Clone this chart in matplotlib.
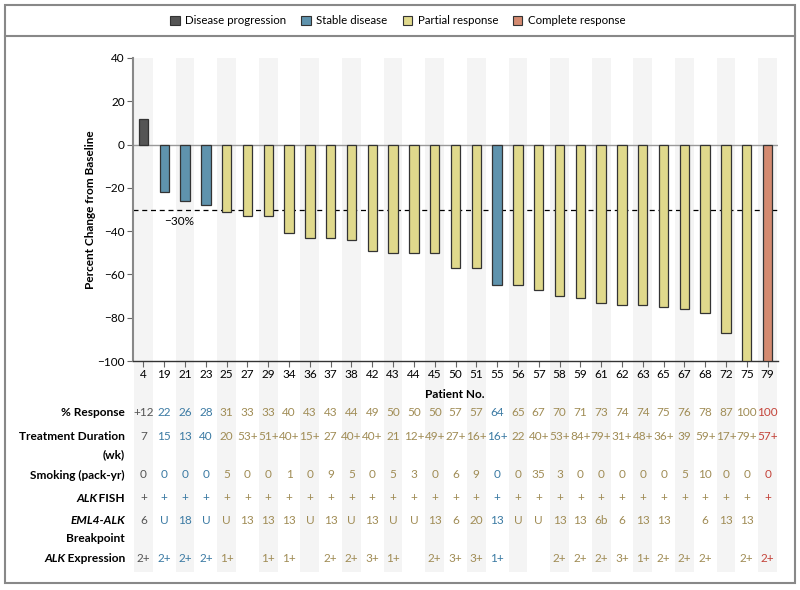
import matplotlib.pyplot as plt
from matplotlib.patches import Patch, Rectangle
from matplotlib.lines import Line2D

# data
patients = [4, 19, 21, 23, 25, 27, 29, 34, 36, 37, 38, 42, 43, 44, 45, 50, 51,
            55, 56, 57, 58, 59, 61, 62, 63, 65, 67, 68, 72, 75, 79]
change = [12, -22, -26, -28, -31, -33, -33, -41, -43, -43, -44, -49, -50, -50, -50,
          -57, -57, -65, -65, -67, -70, -71, -73, -74, -74, -75, -76, -78, -87, -100, -100]
status = ["PD", "SD", "SD", "SD"] + ["PR"] * 13 + ["SD"] + ["PR"] * 12 + ["CR"]

response = ["+12", "22", "26", "28", "31", "33", "33", "40", "43", "43", "44", "49", "50",
            "50", "50", "57", "57", "64", "65", "67", "70", "71", "73", "74", "74", "75",
            "76", "78", "87", "100", "100"]
duration = ["7", "15", "13", "40", "20", "53+", "51+", "40+", "15+", "27", "40+", "40+",
            "21", "12+", "49+", "27+", "16+", "16+", "22", "40+", "53+", "84+", "79+",
            "31+", "48+", "36+", "39", "59+", "17+", "79+", "57+"]
smoking = ["0", "0", "0", "0", "5", "0", "0", "1", "0", "9", "5", "0", "5", "3", "0", "6",
           "9", "0", "0", "35", "3", "0", "0", "0", "0", "0", "5", "10", "0", "0", "0"]
fish = ["+"] * 31
breakpoint_ = ["6", "U", "18", "U", "U", "13", "13", "13", "U", "13", "U", "13", "U", "U",
               "13", "6", "20", "13", "U", "U", "13", "13", "6b", "6", "13", "13", "", "6",
               "13", "13", ""]
expression = ["2+", "2+", "2+", "2+", "1+", "", "1+", "1+", "", "2+", "2+", "3+", "1+", "",
              "2+", "3+", "3+", "1+", "", "", "2+", "2+", "2+", "3+", "1+", "2+", "2+", "2+",
              "", "2+", "2+"]

legend_labels = {"PD": "Disease progression", "SD": "Stable disease",
                 "PR": "Partial response", "CR": "Complete response"}
bar_colors = {"PD": "#555555", "SD": "#5f93ad", "PR": "#e0d98c", "CR": "#d48a70"}
text_colors = {"PD": "#555555", "SD": "#3b7aa3", "PR": "#a08c55", "CR": "#c4443a"}

plt.rcParams["font.family"] = ["Lato", "DejaVu Sans"]

W, H = 800, 590
fig = plt.figure(figsize=(8, 5.9), dpi=100)


def fx(px):
    return px / W


def fy(py):
    return 1 - py / H


AX_TOP, AX_BOT = 58, 361
ax = fig.add_axes([fx(133), fy(AX_BOT), fx(778) - fx(133), fy(AX_TOP) - fy(AX_BOT)])
n = len(patients)
x = list(range(n))


def row_frac(py):
    # pixel row below the axes -> axes fraction
    return (AX_BOT - py) / (AX_BOT - AX_TOP)


# shaded column stripes, running down through the table
bottom_frac = row_frac(572)
for i in range(0, n, 2):
    ax.add_patch(Rectangle((i - 0.45, bottom_frac), 0.9, 1 - bottom_frac,
                           transform=ax.get_xaxis_transform(), clip_on=False,
                           facecolor="#f4f4f4", edgecolor="none", zorder=0))

ax.axhline(0, color="#999999", lw=1, zorder=1)
ax.axhline(-30, color="black", lw=0.9, ls=(0, (4, 3)), zorder=1)
ax.bar(x, change, width=0.45, color=[bar_colors[s] for s in status],
       edgecolor="#333333", linewidth=0.9, zorder=3)
ax.text(1.7, -33, "\u221230%", ha="center", va="top", fontsize=8.5)

ax.set_xlim(-0.5, n - 0.5)
ax.set_ylim(-100, 40)
ax.set_yticks([40, 20, 0, -20, -40, -60, -80, -100])
ax.set_yticklabels(["40", "20", "0", "\u221220", "\u221240", "\u221260", "\u221280", "\u2212100"])
ax.set_xticks(x)
ax.set_xticklabels([str(p) for p in patients])
ax.tick_params(axis="both", direction="out", length=4, color="#666666",
               labelsize=8.5, pad=2)
for side in ["top", "right"]:
    ax.spines[side].set_visible(False)
ax.spines["left"].set_color("#888888")
ax.spines["left"].set_linewidth(1.5)
ax.spines["bottom"].set_color("#333333")
ax.spines["bottom"].set_linewidth(1)
ax.patch.set_alpha(0)

fig.text(fx(90), fy(210), "Percent Change from Baseline", rotation=90,
         ha="center", va="center", fontsize=8.5, fontweight="bold")
fig.text(fx(455), fy(395), "Patient No.", ha="center", va="center",
         fontsize=8.5, fontweight="bold")

# table values under each patient column
rows = [(response, 413), (duration, 437), (smoking, 475), (fish, 498),
        (breakpoint_, 521), (expression, 559)]
for values, py in rows:
    for i, v in enumerate(values):
        ax.text(i, row_frac(py), v, transform=ax.get_xaxis_transform(),
                ha="center", va="center", fontsize=8.5,
                color=text_colors[status[i]], clip_on=False)

# row labels, right aligned at x=125, mixing italic and upright bold parts
fig.canvas.draw()
renderer = fig.canvas.get_renderer()


def label(py, parts):
    right = 125
    for txt, style in reversed(parts):
        t = fig.text(fx(right), fy(py), txt, ha="right", va="center", fontsize=8.6,
                     fontweight="bold", fontstyle=style)
        right -= t.get_window_extent(renderer).width


label(413, [("% Response", "normal")])
label(437, [("Treatment Duration", "normal")])
label(455, [("(wk)", "normal")])
label(475, [("Smoking (pack-yr)", "normal")])
label(498, [("ALK", "italic"), ("\u2009FISH", "normal")])
label(521, [("EML4-ALK", "italic")])
label(539, [("Breakpoint", "normal")])
label(559, [("ALK", "italic"), ("\u2009Expression", "normal")])

# legend
handles = [Patch(facecolor=bar_colors[k], edgecolor="#333333", linewidth=0.8,
                 label=legend_labels[k]) for k in ["PD", "SD", "PR", "CR"]]
fig.legend(handles=handles, loc="center", bbox_to_anchor=(fx(398), fy(21)), ncol=4,
           frameon=False, fontsize=8.3, handlelength=0.8, handleheight=0.8,
           handletextpad=0.5, columnspacing=1.3)

# outer frame and separator under the legend
fig.add_artist(Rectangle((fx(5), fy(583)), fx(795) - fx(5), fy(5) - fy(583),
                         transform=fig.transFigure, facecolor="none",
                         edgecolor="#888888", lw=1.5))
fig.add_artist(Line2D([fx(5), fx(795)], [fy(36), fy(36)], transform=fig.transFigure,
                      color="#888888", lw=1.5))

fig.savefig("out.png", dpi=100)
